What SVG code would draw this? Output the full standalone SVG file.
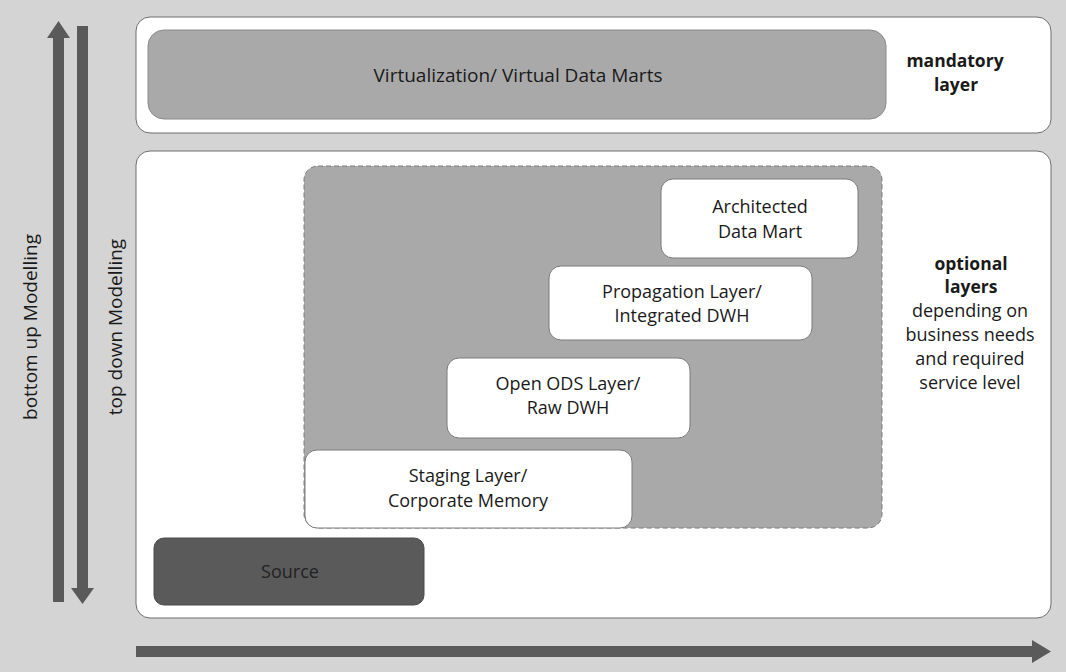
<svg xmlns="http://www.w3.org/2000/svg" width="1066" height="672" viewBox="0 0 1066 672">
<style>
text{font-family:"Open Sans","Noto Sans","Liberation Sans",sans-serif;font-size:18px;fill:#1a1a1a;text-anchor:middle}
.b{font-weight:bold;font-size:17.5px}
.panel{fill:#fff;stroke:#6e6e6e;stroke-width:1}
.node{fill:#fff;stroke:#7a7a7a;stroke-width:1}
.arrow{fill:#5a5a5a}
</style>
<rect x="0" y="0" width="1066" height="672" fill="#d4d4d4"/>
<g id="mandatory-panel">
<rect class="panel" x="136" y="17" width="915" height="116" rx="14"/>
<text class="b" x="955" y="67">mandatory</text>
<text class="b" x="956" y="91">layer</text>
</g>
<g id="virtualization">
<rect x="148" y="30" width="738" height="89" rx="16" fill="#a9a9a9" stroke="#8a8a8a"/>
<text x="518" y="82" style="font-size:19px">Virtualization/ Virtual Data Marts</text>
</g>
<g id="optional-panel">
<rect class="panel" x="136" y="151" width="915" height="467" rx="14"/>
<text class="b" x="971" y="270">optional</text>
<text class="b" x="971" y="293">layers</text>
<text x="970" y="317">depending on</text>
<text x="970" y="341">business needs</text>
<text x="970" y="365">and required</text>
<text x="970" y="389">service level</text>
</g>
<g id="optional-area">
<rect x="304" y="166" width="578" height="362" rx="14" fill="#a9a9a9" stroke="#7a7a7a" stroke-dasharray="5,3"/>
</g>
<g id="architected">
<rect class="node" x="661" y="179" width="197" height="79" rx="12"/>
<text x="760" y="213">Architected</text>
<text x="760" y="238">Data Mart</text>
</g>
<g id="propagation">
<rect class="node" x="549" y="266" width="263" height="74" rx="12"/>
<text x="682" y="298">Propagation Layer/</text>
<text x="682" y="322">Integrated DWH</text>
</g>
<g id="ods">
<rect class="node" x="447" y="358" width="243" height="80" rx="12"/>
<text x="568" y="390">Open ODS Layer/</text>
<text x="568" y="414">Raw DWH</text>
</g>
<g id="staging">
<rect class="node" x="305" y="450" width="327" height="78" rx="12"/>
<text x="468" y="482">Staging Layer/</text>
<text x="468" y="507">Corporate Memory</text>
</g>
<g id="source">
<rect x="154" y="538" width="270" height="67" rx="10" fill="#5a5a5a" stroke="#4a4a4a"/>
<text x="290" y="578" style="fill:#222">Source</text>
</g>
<g id="connectors">
<polygon class="arrow" points="53,602 64,602 64,38 70,38 58.5,21 47,38 53,38"/>
<polygon class="arrow" points="77,26 88,26 88,588 94,588 82.5,604 71,588 77,588"/>
<polygon class="arrow" points="136,646 1032,646 1032,640 1051,651.5 1032,663 1032,657 136,657"/>
</g>
<g id="axis-labels">
<text transform="translate(37,327) rotate(-90)" style="font-size:19px">bottom up Modelling</text>
<text transform="translate(122,327) rotate(-90)" style="font-size:19px">top down Modelling</text>
</g>
</svg>
